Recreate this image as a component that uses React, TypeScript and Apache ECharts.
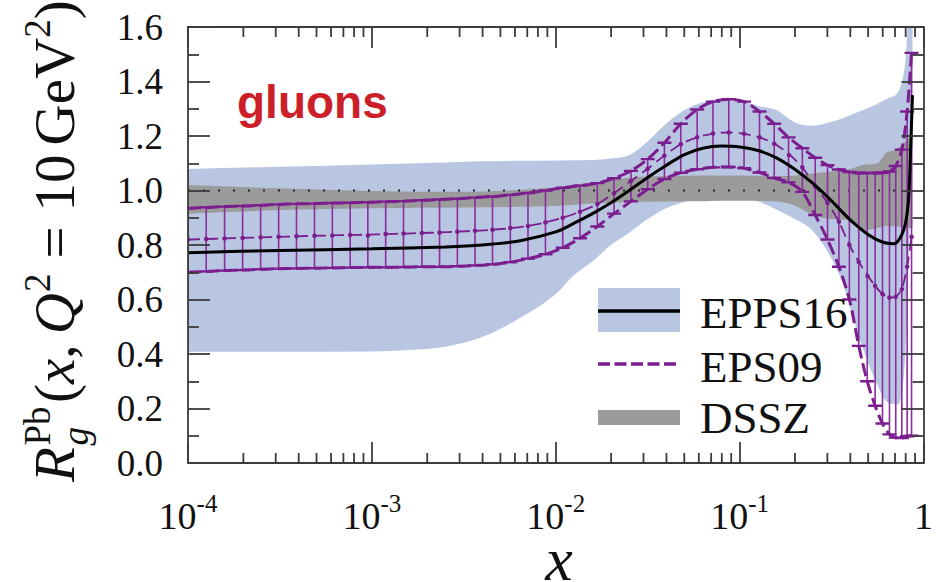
import React, { useEffect, useRef } from 'react';
import * as echarts from 'echarts';

const SERIF = "'Liberation Serif'";
const SANS = "'Liberation Sans'";
const FRAME = '#3c3c3c';
const BLUE = '#b8c6e2';
const GRAY = '#9b9b9b';
const PURPLE = '#7b1d8e';
const BAR_PURPLE = '#8a2e9d';

// x axis decades and their labels (base + exponent)
const xTickValues = [1e-4, 1e-3, 1e-2, 1e-1, 1];
const xTickBase = ['10', '10', '10', '10', '1'];
const xTickExp = ['-4', '-3', '-2', '-1', ''];
const xMinorMantissa = [2, 3, 4, 5, 6, 7, 8, 9];

// EPPS16 central value (log10 x, R)
const eppsLogX = [-4, -3.5, -3, -2.6, -2.4, -2.2, -2.0, -1.9, -1.8, -1.7, -1.6, -1.5, -1.4, -1.3, -1.2, -1.1, -1.0, -0.9, -0.8, -0.7, -0.6, -0.5, -0.4, -0.3, -0.22, -0.16, -0.12, -0.095, -0.08, -0.07, -0.06];
const eppsCentral = [0.772, 0.78, 0.786, 0.793, 0.8, 0.815, 0.848, 0.88, 0.915, 0.955, 1.0, 1.048, 1.092, 1.132, 1.155, 1.163, 1.16, 1.147, 1.12, 1.078, 1.025, 0.962, 0.893, 0.838, 0.81, 0.805, 0.835, 0.89, 0.98, 1.15, 1.35];

// EPPS16 uncertainty band
const eppsBandLogX = [-4, -3.5, -3, -2.8, -2.6, -2.4, -2.2, -2.0, -1.9, -1.8, -1.7, -1.6, -1.5, -1.4, -1.3, -1.2, -1.1, -1.0, -0.9, -0.8, -0.7, -0.6, -0.5, -0.44, -0.35, -0.26, -0.19, -0.14, -0.11, -0.095, -0.08, -0.06];
const eppsBandLower = [0.408, 0.408, 0.409, 0.415, 0.427, 0.462, 0.53, 0.62, 0.69, 0.74, 0.8, 0.845, 0.895, 0.935, 0.958, 0.973, 0.978, 0.975, 0.96, 0.93, 0.895, 0.85, 0.75, 0.66, 0.46, 0.3, 0.22, 0.215, 0.3, 0.45, 0.75, 1.2];
const eppsBandUpper = [1.079, 1.087, 1.095, 1.099, 1.103, 1.107, 1.109, 1.11, 1.111, 1.112, 1.117, 1.13, 1.18, 1.245, 1.295, 1.324, 1.336, 1.33, 1.31, 1.295, 1.25, 1.238, 1.252, 1.265, 1.29, 1.315, 1.34, 1.36, 1.42, 1.5, 1.7, 1.9];

// DSSZ band
const dsszLogX = [-4, -3.5, -3, -2.5, -2.2, -2.0, -1.8, -1.6, -1.4, -1.2, -1.0, -0.8, -0.7, -0.6, -0.5, -0.4, -0.32, -0.25, -0.2, -0.15, -0.1, -0.06];
const dsszLower = [0.915, 0.928, 0.935, 0.938, 0.94, 0.943, 0.952, 0.958, 0.96, 0.961, 0.962, 0.96, 0.945, 0.91, 0.895, 0.89, 0.855, 0.862, 0.87, 0.868, 0.865, 0.86];
const dsszUpper = [1.02, 1.008, 0.998, 0.995, 1.002, 1.012, 1.03, 1.047, 1.053, 1.055, 1.055, 1.052, 1.055, 1.062, 1.07, 1.078, 1.095, 1.1, 1.14, 1.15, 1.18, 1.2];

// EPS09 points (log10 x) with central value and error range
const eps09LogX = [-4.0, -3.901, -3.801, -3.703, -3.605, -3.507, -3.41, -3.312, -3.215, -3.118, -3.022, -2.925, -2.828, -2.728, -2.632, -2.535, -2.439, -2.344, -2.247, -2.151, -2.056, -1.962, -1.868, -1.774, -1.683, -1.591, -1.5, -1.409, -1.32, -1.231, -1.145, -1.059, -0.976, -0.892, -0.812, -0.734, -0.659, -0.589, -0.522, -0.46, -0.403, -0.352, -0.306, -0.263, -0.223, -0.185, -0.151, -0.118, -0.089, -0.065];
const eps09Upper = [0.935, 0.938, 0.941, 0.943, 0.946, 0.949, 0.951, 0.952, 0.954, 0.955, 0.957, 0.959, 0.961, 0.964, 0.967, 0.97, 0.974, 0.978, 0.984, 0.991, 1.0, 1.01, 1.018, 1.027, 1.045, 1.072, 1.115, 1.175, 1.245, 1.297, 1.326, 1.335, 1.326, 1.29, 1.245, 1.195, 1.155, 1.12, 1.093, 1.077, 1.068, 1.064, 1.064, 1.064, 1.065, 1.07, 1.09, 1.15, 1.29, 1.505];
const eps09Central = [0.82, 0.822, 0.824, 0.826, 0.828, 0.83, 0.832, 0.834, 0.835, 0.837, 0.838, 0.84, 0.842, 0.844, 0.846, 0.849, 0.852, 0.856, 0.862, 0.87, 0.883, 0.9, 0.922, 0.95, 0.99, 1.035, 1.08, 1.128, 1.17, 1.195, 1.209, 1.213, 1.208, 1.195, 1.172, 1.135, 1.085, 1.015, 0.955, 0.885, 0.8, 0.738, 0.69, 0.65, 0.62, 0.607, 0.61, 0.64, 0.72, 0.83];
const eps09Lower = [0.7, 0.703, 0.706, 0.708, 0.711, 0.713, 0.714, 0.715, 0.716, 0.717, 0.718, 0.718, 0.719, 0.72, 0.72, 0.722, 0.725, 0.729, 0.737, 0.75, 0.766, 0.79, 0.825, 0.868, 0.915, 0.96, 1.005, 1.042, 1.065, 1.078, 1.085, 1.086, 1.082, 1.066, 1.046, 1.03, 0.995, 0.91, 0.82, 0.72, 0.6, 0.43, 0.3, 0.21, 0.145, 0.105, 0.093, 0.092, 0.098, 0.1];

const legendNames = ['EPPS16', 'EPS09', 'DSSZ'];
const panelLabel = 'gluons';

const toX = (l: number) => Math.pow(10, l);
const pairs = (lx: number[], ys: number[]) => lx.map((l, i) => [toX(l), ys[i]]);

// Monotone cubic (Fritsch-Carlson) segments through pixel points sorted by x
function monotoneSegments(p: number[][]): number[][][] {
  const n = p.length;
  const d: number[] = [];
  for (let i = 0; i < n - 1; i++) d.push((p[i + 1][1] - p[i][1]) / (p[i + 1][0] - p[i][0]));
  const m: number[] = new Array(n);
  m[0] = d[0];
  m[n - 1] = d[n - 2];
  for (let i = 1; i < n - 1; i++) m[i] = d[i - 1] * d[i] <= 0 ? 0 : (d[i - 1] + d[i]) / 2;
  for (let i = 0; i < n - 1; i++) {
    if (d[i] === 0) { m[i] = 0; m[i + 1] = 0; continue; }
    const a = m[i] / d[i];
    const b = m[i + 1] / d[i];
    const s = a * a + b * b;
    if (s > 9) { const t = 3 / Math.sqrt(s); m[i] = t * a * d[i]; m[i + 1] = t * b * d[i]; }
  }
  const segs: number[][][] = [];
  for (let i = 0; i < n - 1; i++) {
    const h = p[i + 1][0] - p[i][0];
    segs.push([p[i], [p[i][0] + h / 3, p[i][1] + (m[i] * h) / 3], [p[i + 1][0] - h / 3, p[i + 1][1] - (m[i + 1] * h) / 3], p[i + 1]]);
  }
  return segs;
}

function bandSeries(lx: number[], lo: number[], hi: number[], color: string, z: number): any {
  return {
    type: 'custom', z, silent: true,
    data: [[toX(lx[0]), lo[0]]],
    encode: { x: 0, y: 1 },
    renderItem: (params: any, api: any) => {
      const up = lx.map((l, i) => api.coord([toX(l), hi[i]]));
      const dn = lx.map((l, i) => api.coord([toX(l), lo[i]]));
      const su = monotoneSegments(up);
      const sd = monotoneSegments(dn);
      const f = (q: number[]) => `${q[0].toFixed(2)} ${q[1].toFixed(2)}`;
      let path = `M ${f(up[0])}`;
      su.forEach((s) => { path += ` C ${f(s[1])} ${f(s[2])} ${f(s[3])}`; });
      path += ` L ${f(dn[dn.length - 1])}`;
      for (let k = sd.length - 1; k >= 0; k--) path += ` C ${f(sd[k][2])} ${f(sd[k][1])} ${f(sd[k][0])}`;
      path += ' Z';
      const cs = params.coordSys;
      return {
        type: 'group',
        clipPath: { type: 'rect', shape: { x: cs.x, y: cs.y, width: cs.width, height: cs.height } },
        children: [{ type: 'path', shape: { pathData: path }, style: { fill: color, stroke: 'none' } }],
      };
    },
  };
}

// plain text element for the graphic component
const txt = (x: number, y: number, text: string, size: number, opts: any = {}) => {
  const style: any = {
    text, fontFamily: opts.family || SERIF, fontSize: size, fill: opts.fill || '#111',
    align: opts.align || 'left', verticalAlign: 'middle',
  };
  if (opts.italic) style.fontStyle = 'italic';
  if (opts.bold) style.fontWeight = 'bold';
  if (opts.lineHeight) style.lineHeight = opts.lineHeight;
  return { type: 'text', x, y, z: 20, style };
};

// Times-compatible advance widths (em) of the glyph runs used in the y-axis title
const titleAdvance: Record<string, number> = {
  R: 0.611, Pb: 1.056, g: 0.5, '(': 0.333, x: 0.444, ',': 0.25, Q: 0.722, '2': 0.5, '=': 0.564, '10': 1.0, GeV: 1.888, ')': 0.333,
};

function buildYTitle(): any {
  const F = 57;
  const S = 37;
  const children: any[] = [];
  let cur = 0;
  const put = (t: string, size: number, italic: boolean, dy: number) => {
    children.push(txt(cur, dy - 0.3375 * size, t, size, { italic }));
    return titleAdvance[t] * size;
  };
  const sup = -0.42 * F;
  const sub = 0.24 * F;
  cur += put('R', F, true, 0) + 0.03 * F;
  const wp = put('Pb', S, false, sup);
  const wg = put('g', S, true, sub);
  cur += Math.max(wp, wg) + 0.06 * F;
  cur += put('(', F, false, 0);
  cur += put('x', F, true, 0);
  cur += put(',', F, false, 0) + 0.18 * F;
  cur += put('Q', F, true, 0) + 0.02 * F;
  cur += put('2', S, false, sup) + 0.26 * F;
  cur += put('=', F, false, 0) + 0.26 * F;
  cur += put('10', F, false, 0) + 0.16 * F;
  cur += put('GeV', F, false, 0);
  cur += put('2', S, false, sup);
  put(')', F, false, 0);
  return { type: 'group', x: 74, y: 482, rotation: Math.PI / 2, children, z: 20 };
}

function buildOption(): any {
  const axisLineStyle = { color: FRAME, width: 1.8 };
  const xMinorTicks: number[] = [];
  for (let d = -4; d < 0; d++) xMinorMantissa.forEach((m) => xMinorTicks.push(m * Math.pow(10, d)));

  const xLabel = (v: number) => {
    const e = Math.round(Math.log10(v));
    const i = xTickValues.findIndex((t) => Math.round(Math.log10(t)) === e);
    if (i < 0) return '';
    return xTickExp[i] ? `{b|${xTickBase[i]}}{s|${xTickExp[i]}}` : `{b|${xTickBase[i]}}`;
  };

  const logAxis = (pos: 'bottom' | 'top', labels: boolean) => ({
    type: 'log', logBase: 10, min: 1e-4, max: 1, position: pos, z: 10,
    axisLine: { show: true, onZero: false, lineStyle: axisLineStyle },
    axisTick: { show: true, inside: true, length: 21, lineStyle: axisLineStyle },
    minorTick: { show: false },
    splitLine: { show: false },
    axisLabel: labels
      ? {
          show: true, margin: 28, showMinLabel: true, showMaxLabel: true, formatter: xLabel,
          fontFamily: SERIF,
          rich: {
            b: { fontFamily: SERIF, fontSize: 38, lineHeight: 50, color: '#111' },
            s: { fontFamily: SERIF, fontSize: 25, lineHeight: 22, verticalAlign: 'top', color: '#111' },
          },
        }
      : { show: false },
  });

  const valAxis = (pos: 'left' | 'right', labels: boolean) => ({
    type: 'value', min: 0, max: 1.6, interval: 0.2, position: pos, z: 10,
    axisLine: { show: true, onZero: false, lineStyle: axisLineStyle },
    axisTick: { show: true, inside: true, length: 22, lineStyle: axisLineStyle },
    minorTick: { show: true, splitNumber: 2, length: 11, lineStyle: axisLineStyle },
    splitLine: { show: false },
    axisLabel: labels
      ? { show: true, margin: 25, fontFamily: SERIF, fontSize: 37, color: '#111', formatter: (v: number) => v.toFixed(1) }
      : { show: false },
  });

  return {
    animation: false,
    grid: { left: 188, top: 27, width: 744, height: 436, containLabel: false },
    xAxis: [logAxis('bottom', true), logAxis('top', false)],
    yAxis: [valAxis('left', true), valAxis('right', false)],
    series: [
      bandSeries(eppsBandLogX, eppsBandLower, eppsBandUpper, BLUE, 1),
      bandSeries(dsszLogX, dsszLower, dsszUpper, GRAY, 2),
      {
        type: 'line', data: [[1e-4, 1], [1, 1]], symbol: 'none', silent: true, z: 3,
        lineStyle: { color: '#222', width: 2.2, type: [2, 13] },
      },
      {
        type: 'custom', z: 4, silent: true,
        data: eps09LogX.map((l, i) => [toX(l), eps09Lower[i], eps09Upper[i], eps09Central[i]]),
        encode: { x: 0, y: [1, 2] },
        renderItem: (params: any, api: any) => {
          const x = api.value(0);
          const lo = api.coord([x, api.value(1)]);
          const hi = api.coord([x, api.value(2)]);
          const mid = api.coord([x, api.value(3)]);
          const cap = 7;
          const cs = params.coordSys;
          return {
            type: 'group',
            clipPath: { type: 'rect', shape: { x: cs.x, y: cs.y, width: cs.width, height: cs.height } },
            children: [
              { type: 'line', shape: { x1: lo[0], y1: lo[1], x2: hi[0], y2: hi[1] }, style: { stroke: BAR_PURPLE, lineWidth: 1.6 } },
              { type: 'line', shape: { x1: lo[0] - cap, y1: lo[1], x2: lo[0] + cap, y2: lo[1] }, style: { stroke: PURPLE, lineWidth: 2.4 } },
              { type: 'line', shape: { x1: hi[0] - cap, y1: hi[1], x2: hi[0] + cap, y2: hi[1] }, style: { stroke: PURPLE, lineWidth: 2.4 } },
              { type: 'circle', shape: { cx: mid[0], cy: mid[1], r: 2.3 }, style: { fill: PURPLE } },
            ],
          };
        },
      },
      {
        type: 'line', data: pairs(eps09LogX, eps09Upper), symbol: 'none', smooth: 0.3, silent: true, z: 5,
        lineStyle: { color: PURPLE, width: 3, type: [13, 5] },
      },
      {
        type: 'line', data: pairs(eps09LogX, eps09Lower), symbol: 'none', smooth: 0.3, silent: true, z: 5,
        lineStyle: { color: PURPLE, width: 3, type: [13, 5] },
      },
      {
        type: 'line', data: pairs(eps09LogX, eps09Central), symbol: 'none', smooth: 0.3, silent: true, z: 5,
        lineStyle: { color: PURPLE, width: 1.8, type: [12, 6] },
      },
      {
        type: 'line', data: pairs(eppsLogX, eppsCentral), symbol: 'none', smooth: 0.3, silent: true, z: 6,
        lineStyle: { color: '#000', width: 3 },
      },
      {
        type: 'custom', z: 11, silent: true,
        data: xMinorTicks.map((v) => [v, 0]),
        encode: { x: 0, y: 1 },
        renderItem: (params: any, api: any) => {
          const p = api.coord([api.value(0), 0]);
          const cs = params.coordSys;
          const bottom = cs.y + cs.height;
          return {
            type: 'group',
            children: [
              { type: 'line', shape: { x1: p[0], y1: bottom, x2: p[0], y2: bottom - 10 }, style: { stroke: FRAME, lineWidth: 1.8 } },
              { type: 'line', shape: { x1: p[0], y1: cs.y, x2: p[0], y2: cs.y + 10 }, style: { stroke: FRAME, lineWidth: 1.8 } },
            ],
          };
        },
      },
    ],
    graphic: [
      buildYTitle(),
      txt(559, 559, 'x', 62, { italic: true, align: 'center', lineHeight: 30 }),
      txt(237, 102, panelLabel, 46, { family: SANS, bold: true, fill: '#cc1f2a' }),
      { type: 'rect', z: 20, shape: { x: 598, y: 288, width: 82, height: 44 }, style: { fill: BLUE } },
      { type: 'line', z: 21, shape: { x1: 598, y1: 311, x2: 680, y2: 311 }, style: { stroke: '#000', lineWidth: 3.5 } },
      { type: 'line', z: 21, shape: { x1: 598, y1: 364, x2: 680, y2: 364 }, style: { stroke: PURPLE, lineWidth: 3.5, lineDash: [12, 4.5] } },
      { type: 'rect', z: 20, shape: { x: 598, y: 410, width: 82, height: 15 }, style: { fill: GRAY } },
      ...legendNames.map((name, i) => txt(700, [313, 367, 418][i], name, 45)),
    ],
  };
}

export default function App() {
  const ref = useRef<HTMLDivElement>(null);
  useEffect(() => {
    if (!ref.current) return;
    const chart = echarts.init(ref.current, undefined, { renderer: 'svg' });
    chart.setOption(buildOption());
    return () => chart.dispose();
  }, []);
  return <div ref={ref} style={{ position: 'absolute', left: 0, top: 0, width: 936, height: 582, background: '#fff' }} />;
}
